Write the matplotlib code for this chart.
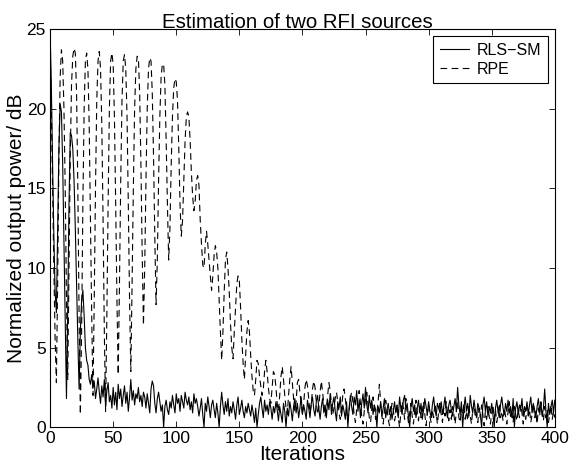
import numpy as np
import matplotlib
matplotlib.use("Agg")
import matplotlib.pyplot as plt

plt.rcParams['font.family'] = ['Liberation Sans', 'DejaVu Sans']

iterations = list(range(0, 401))

rls_sm = [
    25.0, 21.5, 16.5, 12.0, 8.5, 7.2, 12.5, 17.5, 20.3, 19.8,
    16.5, 11.5, 6.8, 1.8, 7.5, 14.0, 18.5, 18.3, 17.5, 15.5,
    12.5, 9.0, 5.5, 2.4, 6.0, 8.0, 8.6, 7.0, 5.0, 4.2,
    3.9, 3.0, 2.7, 3.3, 2.5, 2.9, 1.8, 2.4, 3.1, 2.2,
    1.5, 2.6, 1.9, 3.0, 1.3, 2.3, 2.8, 1.6, 2.0, 1.2,
    2.5, 1.4, 2.2, 1.1, 2.7, 1.8, 2.4, 1.3, 2.0, 2.6,
    1.5, 2.2, 1.0, 1.9, 3.0, 1.7, 2.3, 1.4, 2.1, 1.8,
    2.5, 1.6, 2.0, 1.3, 2.2, 1.9, 1.2, 2.1, 1.5, 0.9,
    2.4, 2.9, 2.6, 1.5, 0.9, 1.8, 2.2, 1.6, 1.0, 1.4,
    0.0, 1.3, 1.7, 1.1, 0.8, 1.6, 1.2, 2.0, 1.4, 0.9,
    2.1, 1.5, 1.8, 1.0, 2.0, 1.6, 1.2, 2.2, 1.7, 1.4,
    1.9, 1.1, 1.6, 0.9, 2.1, 1.5, 1.8, 1.3, 0.7, 1.2,
    1.8, 0.8, 0.0, 1.5, 1.0, 1.9, 1.3, 0.6, 1.4, 1.7,
    1.1, 0.6, 1.5, 0.9, 0.0, 1.3, 2.2, 1.4, 0.8, 1.6,
    1.0, 1.8, 0.7, 1.3, 0.9, 1.6, 1.1, 0.5, 1.4, 1.9,
    0.8, 1.2, 1.7, 1.0, 0.6, 1.3, 0.9, 1.5, 1.1, 0.7,
    1.4, 0.9, 0.3, 1.2, 0.0, 0.8, 1.5, 1.9, 1.2, 0.6,
    1.7, 1.0, 1.4, 0.8, 1.6, 1.2, 0.5, 1.3, 0.9, 1.6,
    1.1, 0.4, 1.3, 0.8, 0.3, 1.5, 1.0, 0.0, 1.2, 0.7,
    1.6, 1.1, 0.4, 1.3, 1.8, 0.9, 1.5, 0.6, 1.2, 1.9,
    0.8, 1.4, 1.0, 0.5, 1.7, 1.2, 0.6, 1.5, 1.9, 1.1,
    0.7, 1.6, 2.0, 1.2, 0.5, 1.3, 1.8, 0.9, 1.4, 0.6,
    1.7, 1.1, 2.1, 0.8, 1.5, 1.9, 1.0, 0.4, 1.6, 1.2,
    1.9, 0.7, 1.4, 1.0, 0.5, 1.6, 0.0, 1.2, 2.0, 1.3,
    0.8, 1.9, 1.4, 2.3, 1.0, 1.7, 0.6, 1.5, 2.1, 1.2,
    2.5, 1.4, 0.9, 2.0, 1.2, 1.7, 0.8, 1.4, 1.1, 0.0,
    1.3, 0.9, 1.6, 0.7, 1.2, 1.8, 0.6, 1.1, 1.5, 0.8,
    1.3, 0.5, 1.0, 1.6, 0.9, 1.4, 0.6, 1.9, 1.2, 0.8,
    1.7, 2.0, 1.1, 1.5, 0.7, 0.0, 1.3, 1.8, 1.0, 1.4,
    0.6, 1.2, 1.7, 0.9, 1.5, 0.5, 1.1, 1.8, 1.3, 0.8,
    1.6, 1.0, 0.6, 1.4, 1.9, 1.1, 0.7, 1.5, 1.2, 0.9,
    1.6, 0.8, 1.3, 1.9, 1.0, 0.6, 1.4, 1.7, 1.1, 0.7,
    1.3, 1.8, 1.0, 2.5, 1.4, 0.8, 1.6, 0.0, 1.2, 1.9,
    1.0, 1.5, 0.7, 2.0, 1.3, 0.9, 1.7, 1.1, 0.6, 1.5,
    1.2, 0.8, 0.0, 1.4, 1.9, 1.0, 1.6, 0.7, 1.3, 0.9,
    1.5, 0.8, 0.0, 1.2, 1.7, 1.0, 0.6, 1.4, 1.9, 1.2,
    0.8, 1.5, 1.0, 1.7, 0.9, 1.3, 0.6, 1.8, 0.0, 1.2,
    1.6, 0.9, 1.4, 1.1, 1.8, 0.7, 1.3, 1.0, 1.6, 0.8,
    1.4, 1.9, 0.9, 1.5, 1.1, 0.6, 1.3, 1.8, 1.0, 1.5,
    0.7, 1.2, 2.4, 1.0, 0.0, 1.5, 0.8, 1.3, 1.7, 0.9,
    1.7,
]

rpe = [
    24.0, 20.0, 15.0, 10.0, 5.5, 2.8, 9.0, 17.0, 22.0, 23.7,
    23.0, 20.0, 15.0, 8.0, 3.0, 10.0, 17.0, 21.5, 23.3, 23.8,
    23.5, 21.0, 15.0, 7.0, 0.8, 6.0, 14.0, 20.0, 23.0, 23.5,
    22.5, 19.0, 13.0, 7.0, 2.0, 8.0, 15.0, 20.5, 23.0, 23.6,
    22.5, 19.0, 13.0, 6.0, 1.0, 7.0, 14.0, 20.0, 23.0, 23.5,
    22.8, 19.5, 14.0, 8.0, 3.3, 9.0, 15.5, 20.5, 23.0, 23.4,
    22.5, 19.5, 14.0, 8.0, 3.5, 9.0, 15.0, 20.0, 22.5, 23.3,
    23.2, 21.0, 16.5, 11.0, 6.4, 10.0, 15.5, 20.0, 22.5, 23.2,
    23.0, 21.0, 17.0, 12.0, 7.7, 10.5, 15.5, 19.5, 22.0, 22.8,
    22.8, 21.5, 18.0, 14.0, 10.5, 12.5, 16.5, 19.5, 21.3, 21.9,
    21.7, 20.5, 17.5, 14.0, 12.0, 13.0, 15.5, 18.0, 19.5, 19.8,
    19.5, 18.0, 16.0, 14.5, 13.6, 14.2, 15.5, 15.8, 15.2, 13.0,
    11.5, 10.2, 10.0, 11.5, 12.3, 11.5, 10.5, 9.5, 8.6, 9.5,
    10.8, 11.4, 11.0, 10.0, 8.0, 6.0, 4.2, 6.0, 8.5, 10.5,
    11.0, 10.0, 8.5, 6.5, 5.0, 4.3, 6.0, 7.5, 9.0, 9.5,
    9.2, 7.5, 5.5, 4.0, 3.0, 4.5, 6.0, 6.7, 6.0, 4.5,
    3.2, 2.3, 2.0, 3.0, 4.2, 4.0, 3.2, 2.6, 2.0, 2.4,
    3.5, 4.2, 3.5, 2.5, 1.8, 1.5, 2.5, 3.5, 3.3, 2.5,
    1.5, 1.0, 2.0, 3.2, 3.8, 3.0, 2.0, 1.2, 0.8, 2.0,
    3.0, 3.8, 2.8, 1.8, 1.0, 1.6, 2.8, 3.0, 2.2, 1.5,
    0.8, 1.5, 2.5, 3.0, 2.6, 1.8, 0.9, 1.4, 2.4, 2.9,
    2.5, 1.6, 0.8, 1.3, 2.2, 2.9, 2.2, 1.4, 0.7, 1.2,
    2.0, 2.8, 2.3, 1.5, 0.8, 1.2, 1.8, 2.2, 1.6, 0.9,
    0.5, 1.2, 2.0, 2.4, 1.8, 1.0, 0.4, 1.0, 1.8, 2.2,
    1.6, 0.8, 0.3, 1.1, 1.9, 2.3, 1.5, 0.7, 0.2, 1.0,
    1.8, 2.2, 1.4, 0.6, 0.3, 1.2, 1.9, 1.3, 0.5, 0.9,
    1.6, 2.7, 1.5, 0.7, 0.2, 1.0, 1.7, 1.2, 0.5, 0.1,
    0.9, 1.5, 1.1, 0.4, 0.8, 1.4, 0.6, 0.0, 0.9, 1.6,
    1.2, 0.5, 1.8, 1.0, 0.3, 0.9, 1.5, 0.7, 0.2, 1.1,
    1.7, 0.9, 0.4, 1.3, 0.6, 1.0, 1.6, 0.8, 0.1, 0.9,
    1.4, 0.7, 0.3, 1.1, 0.6, 1.5, 0.9, 0.2, 1.0, 1.5,
    0.8, 0.3, 1.2, 0.7, 1.6, 0.9, 0.4, 1.1, 0.5, 1.3,
    0.8, 0.2, 1.0, 1.6, 0.6, 0.3, 1.2, 0.8, 1.5, 0.5,
    1.0, 0.4, 1.3, 0.7, 0.2, 1.1, 1.5, 0.6, 0.9, 0.3,
    1.2, 0.6, 1.4, 0.8, 0.1, 1.0, 0.5, 1.3, 0.7, 0.2,
    0.9, 1.4, 0.5, 1.1, 0.3, 0.8, 1.5, 0.6, 1.0, 0.4,
    1.2, 0.7, 0.2, 1.0, 1.6, 0.6, 0.9, 0.3, 1.3, 0.8,
    0.4, 1.1, 0.6, 1.4, 0.9, 0.2, 1.0, 0.5, 1.3, 0.7,
    1.1, 0.3, 0.8, 1.5, 0.6, 1.0, 0.2, 1.2, 0.7, 1.6,
    0.9, 0.4, 1.3, 0.6, 1.1, 0.3, 0.8, 1.4, 0.5, 1.0,
    0.6,
]

series_labels = ["RLS\u2212SM", "RPE"]
x_ticks = [0, 50, 100, 150, 200, 250, 300, 350, 400]
y_ticks = [0, 5, 10, 15, 20, 25]

fig = plt.figure(figsize=(5.69, 4.70), dpi=100)
ax = fig.add_axes([0.088, 0.091, 0.887, 0.847])

ax.plot(iterations, rls_sm, color='black', lw=0.8, linestyle='-', label=series_labels[0])
ax.plot(iterations, rpe, color='black', lw=0.8, linestyle=(0, (6, 4)), label=series_labels[1])

ax.set_xlim(0, 400)
ax.set_ylim(0, 25)
ax.set_xticks(x_ticks)
ax.set_yticks(y_ticks)
ax.tick_params(direction='in', top=True, right=True, labelsize=12.5, length=4, width=0.6)
ax.tick_params(axis='x', pad=3)
ax.tick_params(axis='y', pad=3)
for s in ax.spines.values():
    s.set_linewidth(0.8)

ax.set_title("Estimation of two RFI sources", fontsize=14.7, pad=1, x=0.49)
ax.set_xlabel("Iterations", fontsize=15, labelpad=-1)
ax.set_ylabel("Normalized output power/ dB", fontsize=15, labelpad=0)

leg = ax.legend(loc='upper right', fontsize=11.5, frameon=True, fancybox=False,
                edgecolor='black', framealpha=1, handlelength=1.8, handletextpad=0.5,
                borderaxespad=0.45, borderpad=0.4, labelspacing=0.25)
leg.get_frame().set_linewidth(0.8)

fig.savefig("out.png", dpi=100)
